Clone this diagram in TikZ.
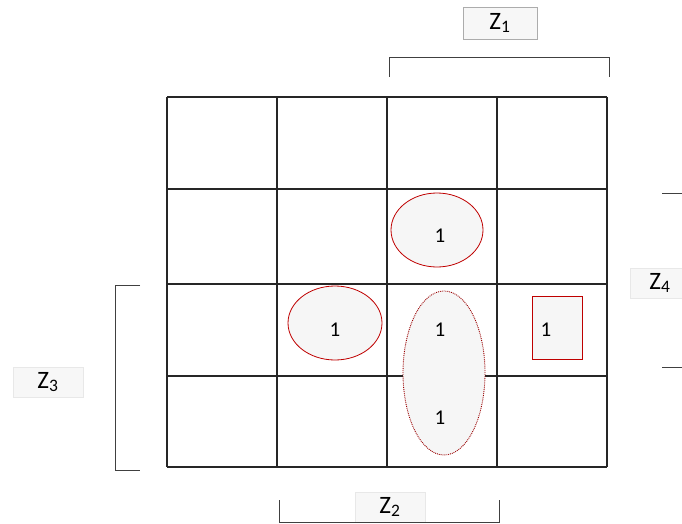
\documentclass[tikz,border=0pt]{standalone}
\usepackage{fontspec}
\setmainfont{Carlito}
\usepackage{tikz}
\usetikzlibrary{shapes.geometric}

\begin{document}
\begin{tikzpicture}[
  x=1pt, y=-1pt, font=\fontsize{21}{24}\selectfont,
  cell/.style={draw=black!85, line width=1.2pt},
  bracket/.style={draw=black!75, line width=0.9pt},
  zlabel/.style={fill=gray!6, draw=gray!18, minimum width=70pt,
    minimum height=30pt, inner sep=0pt, font=\fontsize{25}{28}\selectfont},
  loop/.style={draw=red!75!black, fill=gray!7, line width=0.8pt,
    ellipse, inner sep=0pt},
  dottedloop/.style={draw=red!60!black, fill=gray!7, line width=0.9pt,
    densely dotted, ellipse, inner sep=0pt},
  one/.style={inner sep=1pt}
]
\useasboundingbox (0,0) rectangle (682,524);

% the map
\foreach \gx in {167,277,387,497,607}
  \draw[cell] (\gx,97) -- (\gx,467);
\foreach \gy in {97,189,284,376,467}
  \draw[cell] (167,\gy) -- (607,\gy);

% groups
\node[loop, minimum width=92pt, minimum height=74pt] (grpa) at (437,230) {};
\node[loop, minimum width=94pt, minimum height=74pt] (grpb) at (335,323) {};
\node[dottedloop, minimum width=82pt, minimum height=164pt] (grpc) at (444,373) {};
\node[draw=red!75!black, fill=gray!7, line width=0.8pt, minimum width=50pt,
  minimum height=63pt, inner sep=0pt] (grpd) at (557,328) {};

\node[one] (m6) at (440,236) {1};
\node[one] (m13) at (335,330) {1};
\node[one] (m15) at (440,330) {1};
\node[one] (m10) at (546,330) {1};
\node[one] (m7) at (440,418) {1};

% variable brackets
\node[zlabel, draw=gray!65, minimum width=74pt, minimum height=32pt] (zone) at (500,23) {Z\textsubscript{1}};
\draw[bracket] (389,77) -- (389,57) -- (609,57) -- (609,77);

\node[zlabel] (ztwo) at (390,507) {Z\textsubscript{2}};
\draw[bracket] (279,500) -- (279,522) -- (499,522) -- (499,500);

\node[zlabel] (zthree) at (48,382) {Z\textsubscript{3}};
\draw[bracket] (140,285) -- (115,285) -- (115,470) -- (140,470);

\node[zlabel, minimum width=60pt] (zfour) at (660,283) {Z\textsubscript{4}};
\draw[bracket] (662,193) -- (682,193);
\draw[bracket] (662,367) -- (682,367);
\end{tikzpicture}
\end{document}
